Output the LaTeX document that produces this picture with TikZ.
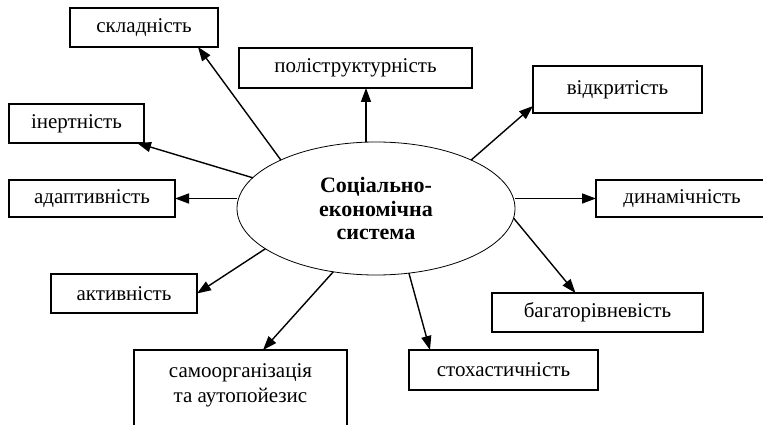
\documentclass[tikz,border=0pt]{standalone}
\usepackage{fontspec}
\setmainfont{Liberation Serif}
\usetikzlibrary{arrows.meta,shapes.geometric}
\tikzset{
  box/.style={draw, line width=1.1pt, rectangle, inner sep=0pt, outer sep=0pt,
    font=\fontsize{21}{25}\selectfont},
  arr/.style={line width=1.4pt, -{Triangle[length=14pt,width=10pt]}},
  core/.style={draw, ellipse, line width=0.8pt, inner sep=0pt, outer sep=0pt,
    minimum width=278pt, minimum height=133pt, align=center,
    font=\fontsize{22}{23.5}\selectfont\bfseries},
}
\begin{document}
\begin{tikzpicture}[x=1pt,y=-1pt]
\useasboundingbox (0,0) rectangle (763,425);
\clip (0,0) rectangle (763,425);
\fill[white] (0,0) rectangle (763,425);
\node[core] (e) at (376,208.5) {Соціально-\\економічна\\система};
\node[box, minimum width=148pt, minimum height=39pt] (skl) at (144,27.5) {складність};
\node[box, minimum width=233pt, minimum height=40pt] (pol) at (355.5,68) {поліструктурність};
\node[box, minimum width=135pt, minimum height=39pt] (ine) at (76.5,123.5) {інертність};
\node[box, minimum width=166pt, minimum height=37pt] (ada) at (92,198.5) {адаптивність};
\node[box, minimum width=169pt, minimum height=47pt] (vid) at (617.5,89.5) {відкритість};
\node[box, minimum width=172pt, minimum height=37pt] (din) at (682,198.5) {динамічність};
\node[box, minimum width=146pt, minimum height=39pt] (act) at (124,293.5) {активність};
\node[box, minimum width=211pt, minimum height=39pt] (bag) at (597.5,312.5) {багаторівневість};
\node[box, minimum width=189pt, minimum height=40pt] (sto) at (503.5,370) {стохастичність};
\node[box, minimum width=213pt, minimum height=110pt, anchor=north] (sam) at (240.5,350) {};
\node[align=center, inner sep=0pt, font=\fontsize{21}{25}\selectfont] (samt) at (240.5,385.5) {самоорганізація\\та аутопойезис};
\draw[arr] (e.153) -- ([xshift=54pt]skl.south);
\draw[arr] ([xshift=-10pt]e.north) -- ([xshift=-10pt]e.north |- pol.south);
\draw[arr] (e.166) -- ([xshift=-7pt]ine.south east);
\draw[arr] (e.west |- ada.east) -- (ada.east);
\draw[arr] (e.27) -- ([yshift=7pt]vid.south west);
\draw[arr] (e.east |- din.west) -- (din.west);
\draw[arr] (e.-4) -- ([xshift=-22pt]bag.north);
\draw[arr] (e.-63) -- ([xshift=21pt]sto.north west);
\draw[arr] (e.200) -- (act.east);
\draw[arr] (e.236) -- ([xshift=22.5pt]sam.north);
\end{tikzpicture}
\end{document}
